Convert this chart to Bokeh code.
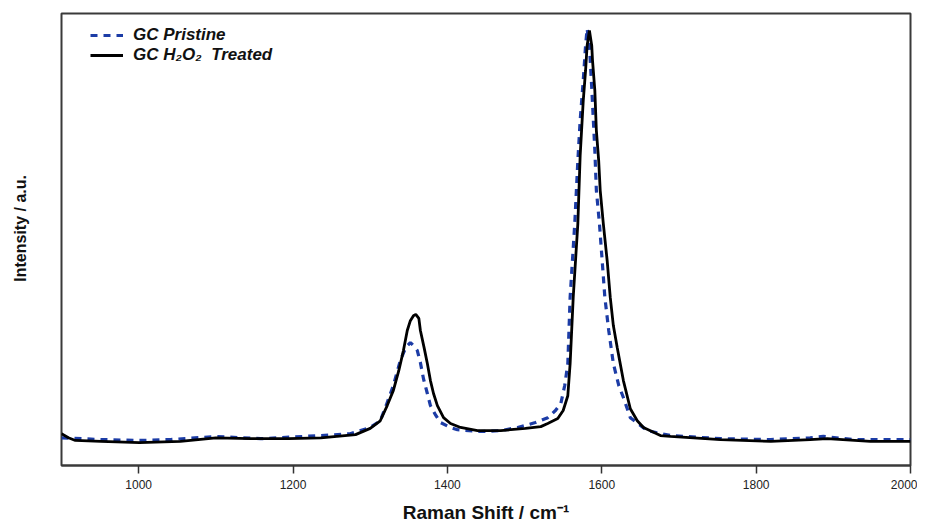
from bokeh.plotting import figure
from bokeh.models import Range1d, FixedTicker, Legend, LegendItem
from bokeh.embed import file_html
from bokeh.resources import INLINE

# Raman shift (cm^-1) and intensity (a.u.)
x_treated = [900, 909, 918, 951, 1001, 1054, 1100, 1145, 1194, 1236, 1281, 1300, 1313, 1322,
             1330, 1337, 1343, 1348, 1352, 1356, 1359, 1363, 1365, 1370, 1374, 1378, 1382, 1387,
             1395, 1404, 1417, 1439, 1469, 1501, 1521, 1530, 1543, 1550, 1556, 1559, 1563, 1569,
             1572, 1576, 1579, 1581, 1584, 1587, 1588, 1591, 1593, 1596, 1598, 1602, 1607, 1611,
             1615, 1620, 1628, 1637, 1646, 1654, 1676, 1689, 1754, 1819, 1870, 1892, 1948, 2000]
y_treated = [6.0, 5.1, 4.5, 4.3, 4.0, 4.3, 5.1, 4.9, 4.9, 5.1, 5.8, 7.2, 8.9, 12.3,
             15.7, 20.1, 24.6, 29.1, 31.3, 32.4, 32.7, 31.8, 29.1, 25.1, 21.7, 17.9, 15.0, 12.3,
             9.6, 8.3, 7.4, 6.7, 6.7, 7.2, 7.6, 8.3, 9.4, 11.2, 14.5, 21.7, 36.5, 53.0,
             68.2, 80.5, 87.2, 92.8, 96.2, 92.8, 89.5, 82.8, 73.8, 67.1, 60.4, 53.0, 44.7, 36.5,
             30.2, 25.3, 17.9, 11.6, 8.9, 7.4, 5.6, 5.4, 4.7, 4.3, 4.7, 4.9, 4.3, 4.3]

x_pristine = [900, 951, 1001, 1041, 1100, 1158, 1236, 1274, 1300, 1313, 1321, 1330, 1339, 1346,
              1352, 1356, 1361, 1365, 1369, 1374, 1378, 1385, 1391, 1404, 1413, 1443, 1469, 1491,
              1514, 1530, 1540, 1547, 1552, 1556, 1559, 1565, 1569, 1572, 1576, 1579, 1581, 1584,
              1587, 1591, 1593, 1597, 1604, 1609, 1615, 1622, 1628, 1637, 1659, 1689, 1754, 1819,
              1870, 1887, 1926, 2000]
y_pristine = [5.1, 4.7, 4.5, 4.7, 5.4, 4.9, 5.6, 6.0, 7.4, 8.9, 12.5, 16.8, 22.4, 25.3,
              26.4, 25.7, 24.6, 21.9, 18.3, 15.0, 12.3, 10.1, 8.5, 7.4, 6.9, 6.5, 6.7, 7.4,
              8.5, 9.6, 11.2, 12.8, 16.8, 21.7, 36.5, 53.0, 67.1, 76.1, 85.0, 92.8, 96.6, 92.8,
              83.4, 69.4, 60.4, 53.0, 36.5, 29.1, 21.7, 16.8, 14.1, 9.6, 6.7, 5.6, 4.9, 4.7,
              5.1, 5.4, 4.7, 4.7]

x_ticks = [1000, 1200, 1400, 1600, 1800, 2000]
label_pristine = "GC Pristine"
label_treated = "GC H\u2082O\u2082  Treated"

p = figure(width=917, height=526, output_backend="svg", toolbar_location=None,
           x_range=Range1d(900, 2000), y_range=Range1d(-1.1, 100),
           min_border_left=61, min_border_right=7, min_border_top=13, min_border_bottom=61)

r1 = p.line(x_pristine, y_pristine, line_color="#1c3ca6", line_width=3.2, line_dash="7 6")
r2 = p.line(x_treated, y_treated, line_color="black", line_width=2.8)

p.grid.visible = False
p.outline_line_color = "#3a3a3a"
p.outline_line_width = 2

p.xaxis.ticker = FixedTicker(ticks=x_ticks)
p.xaxis.axis_label = "Raman Shift / cm\u207b\u00b9"
p.xaxis.axis_label_text_font = "Liberation Sans"
p.xaxis.axis_label_text_font_style = "bold"
p.xaxis.axis_label_text_font_size = "19px"
p.xaxis.axis_label_text_color = "#111111"
p.xaxis.axis_label_standoff = 10
p.xaxis.major_label_text_font = "Liberation Sans"
p.xaxis.major_label_text_font_size = "12px"
p.xaxis.major_label_text_color = "#222222"
p.xaxis.major_label_standoff = 6
p.xaxis.major_tick_out = 8
p.xaxis.major_tick_in = 0
p.xaxis.major_tick_line_width = 1.5
p.xaxis.major_tick_line_color = "#333333"
p.xaxis.minor_tick_line_color = None
p.xaxis.axis_line_color = "#3a3a3a"
p.xaxis.axis_line_width = 2

p.yaxis.ticker = FixedTicker(ticks=[])
p.yaxis.axis_label = "\u00a0" * 5 + "Intensity / a.u."
p.yaxis.axis_label_text_font = "Liberation Sans"
p.yaxis.axis_label_text_font_style = "bold"
p.yaxis.axis_label_text_font_size = "16px"
p.yaxis.axis_label_text_color = "#111111"
p.yaxis.axis_label_standoff = 33
p.yaxis.major_tick_line_color = None
p.yaxis.minor_tick_line_color = None
p.yaxis.axis_line_color = None

legend = Legend(items=[LegendItem(label=label_pristine, renderers=[r1]),
                       LegendItem(label=label_treated, renderers=[r2])],
                location=(29, 400))
legend.border_line_alpha = 0
legend.background_fill_alpha = 0
legend.label_text_font = "Liberation Sans"
legend.label_text_font_style = "bold italic"
legend.label_text_font_size = "17px"
legend.label_text_color = "#111111"
legend.glyph_width = 33
legend.label_standoff = 10
legend.spacing = 0
legend.padding = 0
legend.margin = 0
legend.label_height = 20
legend.glyph_height = 20
p.add_layout(legend)

open("out.html", "w").write(file_html(p, INLINE))
